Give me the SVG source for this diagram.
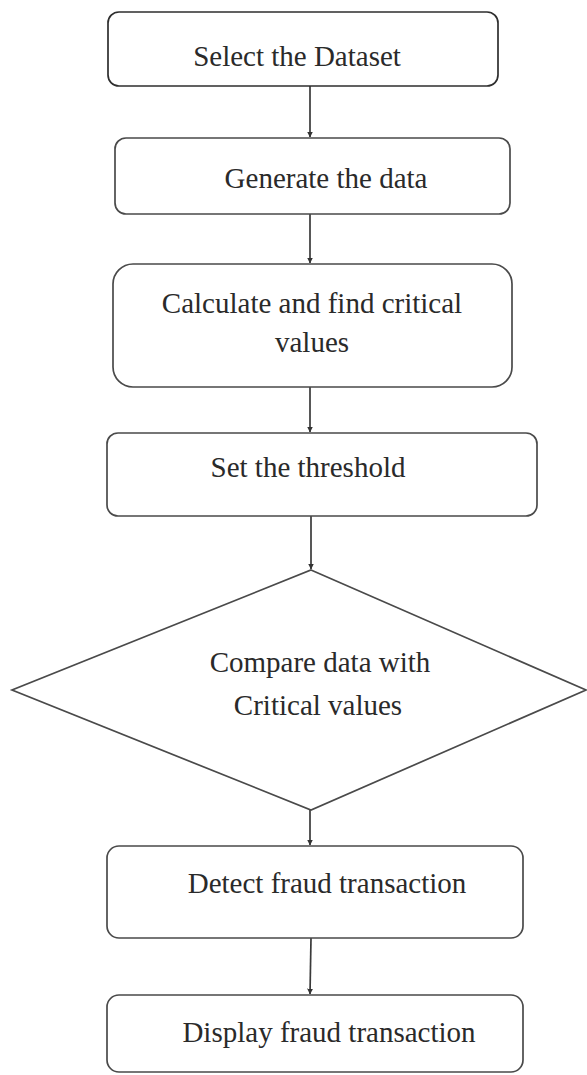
<svg xmlns="http://www.w3.org/2000/svg" width="587" height="1075" viewBox="0 0 587 1075">
<defs>
<style>
.box{fill:#ffffff;stroke:#4a4a4a;stroke-width:1.7}
.lbl{font-family:"Liberation Serif","Times New Roman",serif;font-size:29px;fill:#2a2a2a;text-anchor:middle}
.conn{stroke:#3a3a3a;stroke-width:1.7;fill:none}
</style>
<marker id="ah" viewBox="0 0 6 6" refX="5.5" refY="3" markerWidth="3.5" markerHeight="3.5" orient="auto" markerUnits="strokeWidth">
<path d="M0,0 L6,3 L0,6 Z" fill="#333333"/>
</marker>
</defs>
<rect width="587" height="1075" fill="#ffffff"/>
<g id="connectors">
<line class="conn" x1="310" y1="86" x2="310" y2="137" marker-end="url(#ah)"/>
<line class="conn" x1="310" y1="214" x2="310" y2="263" marker-end="url(#ah)"/>
<line class="conn" x1="310" y1="387" x2="310" y2="432" marker-end="url(#ah)"/>
<line class="conn" x1="311" y1="516" x2="311" y2="569" marker-end="url(#ah)"/>
<line class="conn" x1="310" y1="810" x2="310" y2="845" marker-end="url(#ah)"/>
<line class="conn" x1="311" y1="938" x2="310" y2="994" marker-end="url(#ah)"/>
</g>
<g id="n1">
<rect class="box" x="108" y="12" width="390" height="74" rx="11" style="stroke:#2e2e2e"/>
<text class="lbl" x="297" y="66">Select the Dataset</text>
</g>
<g id="n2">
<rect class="box" x="115" y="138" width="395" height="76" rx="11"/>
<text class="lbl" x="326" y="188">Generate the data</text>
</g>
<g id="n3">
<rect class="box" x="113" y="264" width="399" height="123" rx="20"/>
<text class="lbl" x="312" y="313">Calculate and find critical</text>
<text class="lbl" x="312" y="352">values</text>
</g>
<g id="n4">
<rect class="box" x="107" y="433" width="430" height="83" rx="11"/>
<text class="lbl" x="308" y="477">Set the threshold</text>
</g>
<g id="n5">
<polygon class="box" points="311,570 586,690 311,810 12,690"/>
<text class="lbl" x="320" y="672">Compare data with</text>
<text class="lbl" x="318" y="715">Critical values</text>
</g>
<g id="n6">
<rect class="box" x="107" y="846" width="416" height="92" rx="12"/>
<text class="lbl" x="327" y="893">Detect fraud transaction</text>
</g>
<g id="n7">
<rect class="box" x="107" y="995" width="416" height="77" rx="12"/>
<text class="lbl" x="329" y="1042">Display fraud transaction</text>
</g>
</svg>
